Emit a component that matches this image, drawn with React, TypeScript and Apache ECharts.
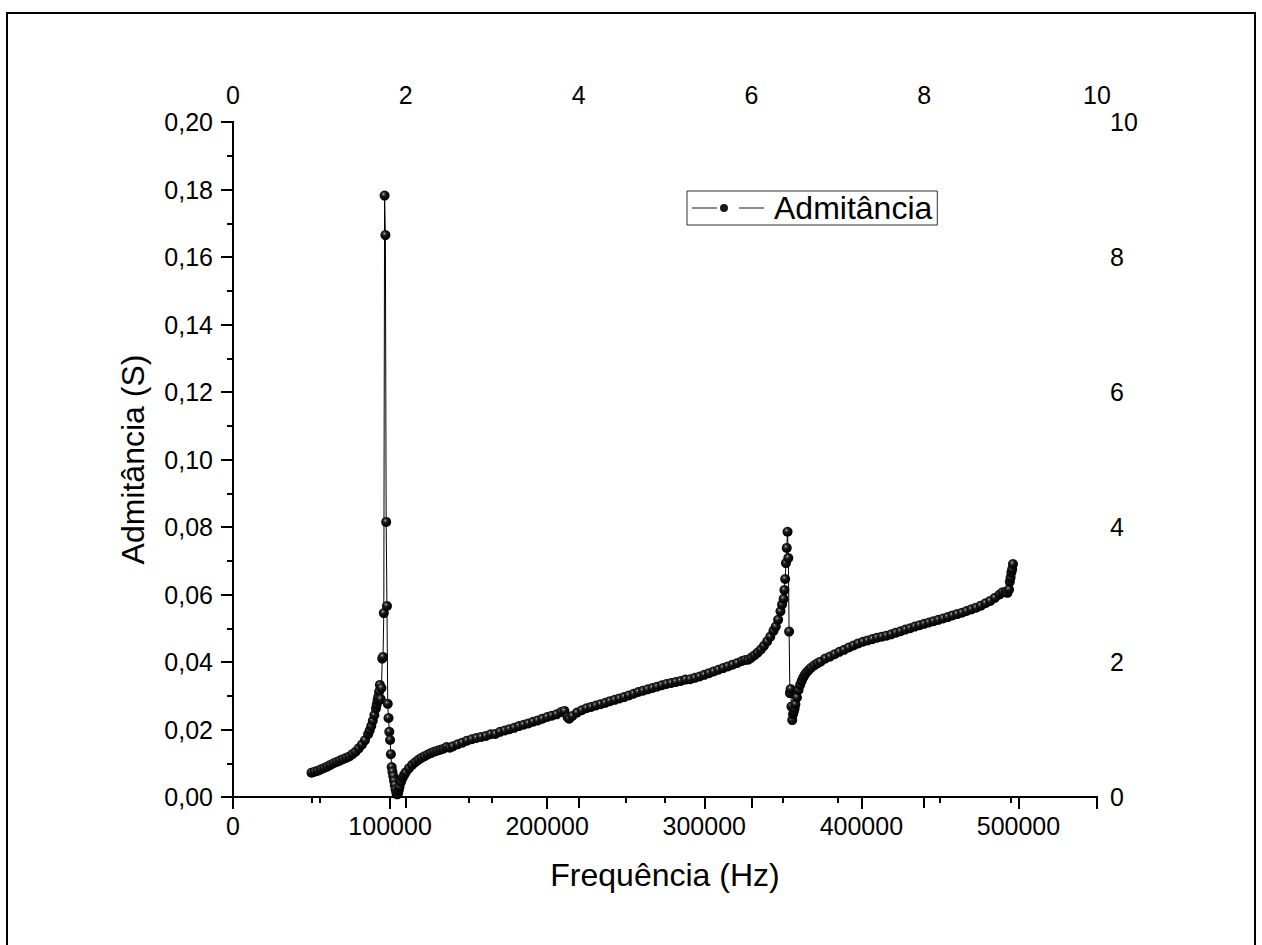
import React, { useEffect, useRef } from "react";
import * as echarts from "echarts";

const lowBand: [number, number][] = [
  [50000, 0.0072], [52000, 0.0075], [54000, 0.0078], [56000, 0.0082], [58000, 0.0086],
  [60000, 0.0090], [62000, 0.0095], [64000, 0.0100], [66000, 0.0104], [68000, 0.0108],
  [70000, 0.0112], [72000, 0.0116], [74000, 0.0120], [76000, 0.0127], [78000, 0.0134],
  [80000, 0.0144], [82000, 0.0155], [84000, 0.0168], [86000, 0.0186], [87000, 0.0197],
  [88000, 0.0210], [89000, 0.0226], [90000, 0.0243], [91000, 0.0262], [91500, 0.0274],
  [92000, 0.0287], [92500, 0.0297], [93000, 0.0312], [93500, 0.0332], [94000, 0.0290],
];

const firstResonance: [number, number][] = [
  [94500, 0.0323], [95000, 0.0410], [95500, 0.0415], [96000, 0.0545], [96500, 0.1782],
  [97000, 0.1665], [97500, 0.0815], [98000, 0.0566], [98500, 0.0276], [99000, 0.0234],
  [99500, 0.0193], [100000, 0.0169], [100500, 0.0127], [101000, 0.0089], [101500, 0.0075],
  [102000, 0.0062], [102500, 0.0048], [103000, 0.0035], [103500, 0.0022], [104000, 0.0012],
  [104500, 0.0008], [105000, 0.0010], [105500, 0.0020], [106000, 0.0030], [107000, 0.0045],
  [108000, 0.0057], [109000, 0.0066], [110000, 0.0073], [112000, 0.0085], [114000, 0.0095],
];

const midBand: [number, number][] = [
  [116000, 0.0103], [118000, 0.0110], [120000, 0.0116], [122000, 0.0121], [124000, 0.0126],
  [126000, 0.0130], [128000, 0.0134], [130000, 0.0137], [132000, 0.0140], [134000, 0.0143],
  [136000, 0.0148], [138000, 0.0146], [140000, 0.0150], [143000, 0.0156], [146000, 0.0161],
  [149000, 0.0167], [152000, 0.0171], [155000, 0.0175], [158000, 0.0178], [161000, 0.0181],
  [164000, 0.0186], [167000, 0.0187], [170000, 0.0193], [173000, 0.0197], [176000, 0.0201],
  [179000, 0.0205], [182000, 0.0210], [185000, 0.0214], [188000, 0.0218], [191000, 0.0223],
  [194000, 0.0227], [197000, 0.0232], [200000, 0.0237], [203000, 0.0241], [206000, 0.0245],
  [209000, 0.0252], [211000, 0.0255], [213000, 0.0236], [214000, 0.0232], [216000, 0.0240],
  [219000, 0.0250], [222000, 0.0257], [225000, 0.0263], [228000, 0.0267], [231000, 0.0271],
  [234000, 0.0275], [237000, 0.0279], [240000, 0.0284], [243000, 0.0288], [246000, 0.0292],
  [249000, 0.0296], [252000, 0.0301], [255000, 0.0306], [258000, 0.0311], [261000, 0.0315],
  [264000, 0.0319], [267000, 0.0323], [270000, 0.0327], [273000, 0.0331], [276000, 0.0335],
  [279000, 0.0338], [282000, 0.0341], [285000, 0.0344], [288000, 0.0348], [291000, 0.0349],
  [294000, 0.0353], [297000, 0.0357], [300000, 0.0362], [303000, 0.0367], [306000, 0.0372],
  [309000, 0.0377], [312000, 0.0382], [315000, 0.0387], [318000, 0.0392], [321000, 0.0397],
  [324000, 0.0403], [326000, 0.0406], [328000, 0.0407], [330000, 0.0413], [332000, 0.0420],
  [334000, 0.0428], [336000, 0.0437], [338000, 0.0448], [340000, 0.0461], [342000, 0.0475],
  [344000, 0.0492],
];

const secondResonance: [number, number][] = [
  [345500, 0.0505], [347000, 0.0525], [348500, 0.0550], [349500, 0.0570], [350500, 0.0587],
  [351000, 0.0613], [351500, 0.0646], [352000, 0.0693], [352500, 0.0738], [353000, 0.0786],
  [353500, 0.0708], [354000, 0.0490], [354500, 0.0308], [355000, 0.0320], [355500, 0.0268],
  [356000, 0.0228], [356500, 0.0245], [357000, 0.0253], [357500, 0.0262], [358000, 0.0275],
  [359000, 0.0295], [360000, 0.0317], [361000, 0.0332], [362000, 0.0344], [363000, 0.0354],
  [364000, 0.0362], [365000, 0.0369], [366500, 0.0376], [368000, 0.0383], [370000, 0.0390],
  [372000, 0.0396], [374000, 0.0401], [377000, 0.0410],
];

const highBand: [number, number][] = [
  [380000, 0.0416], [383000, 0.0423], [386000, 0.0430], [389000, 0.0436], [392000, 0.0443],
  [395000, 0.0449], [398000, 0.0455], [401000, 0.0460], [404000, 0.0464], [407000, 0.0468],
  [410000, 0.0472], [413000, 0.0475], [416000, 0.0478], [419000, 0.0482], [422000, 0.0487],
  [425000, 0.0491], [428000, 0.0496], [431000, 0.0500], [434000, 0.0505], [437000, 0.0509],
  [440000, 0.0513], [443000, 0.0517], [446000, 0.0521], [449000, 0.0525], [452000, 0.0529],
  [455000, 0.0533], [458000, 0.0538], [461000, 0.0542], [464000, 0.0546], [467000, 0.0551],
  [470000, 0.0556], [473000, 0.0561], [476000, 0.0567], [479000, 0.0574], [482000, 0.0581],
  [485000, 0.0590], [488000, 0.0600], [490000, 0.0607], [492000, 0.0608], [493000, 0.0605],
  [494000, 0.0615], [494500, 0.0638], [495000, 0.0650], [495500, 0.0665], [496000, 0.0675],
  [496500, 0.0690],
];

const seriesName = "Admitância";
const xAxisTitle = "Frequência (Hz)";
const yAxisTitle = "Admitância (S)";

const FONT = "'Liberation Sans', Arial, sans-serif";

// legend glyph: line — dot — line, with gaps around the dot
const LEGEND_ICON =
  "path://M0 3.5 H25 V4.5 H0 Z M28 4 A4 4 0 1 0 36 4 A4 4 0 1 0 28 4 Z M47 3.5 H72 V4.5 H47 Z";

export default function App() {
  const ref = useRef<HTMLDivElement>(null);

  useEffect(() => {
    if (!ref.current) return;
    const chart = echarts.init(ref.current, undefined, { renderer: "svg" });
    const data = [...lowBand, ...firstResonance, ...midBand, ...secondResonance, ...highBand];

    const axisLine = { show: true, lineStyle: { color: "#000", width: 2 } };
    const tickStyle = { color: "#000", width: 2 };
    const labelBase = { color: "#000", fontFamily: FONT, fontSize: 25 };

    chart.setOption({
      animation: false,
      backgroundColor: "#fff",
      graphic: [
        {
          type: "rect",
          shape: { x: 7, y: 13, width: 1248, height: 1000 },
          style: { fill: "transparent", stroke: "#000", lineWidth: 2 },
          silent: true,
          z: -1,
        },
      ],
      grid: { left: 233, top: 122, width: 864, height: 675 },
      legend: {
        data: [seriesName],
        left: 687,
        top: 191,
        orient: "vertical",
        icon: LEGEND_ICON,
        itemWidth: 72,
        itemHeight: 8,
        padding: [1, 5, 1, 5],
        borderColor: "#333",
        borderWidth: 1,
        itemStyle: { color: "#1a1a1a" },
        textStyle: { color: "#000", fontFamily: FONT, fontSize: 32, padding: [0, 0, 0, 5] },
      },
      xAxis: [
        {
          type: "value",
          position: "bottom",
          min: 0,
          max: 550000,
          interval: 100000,
          name: xAxisTitle,
          nameLocation: "middle",
          nameGap: 62,
          nameTextStyle: { color: "#000", fontFamily: FONT, fontSize: 32 },
          axisLine,
          axisTick: { show: true, inside: false, length: 12, lineStyle: tickStyle },
          minorTick: { show: true, splitNumber: 2, length: 6, lineStyle: tickStyle },
          axisLabel: {
            ...labelBase,
            margin: 16,
            showMaxLabel: false,
            formatter: (v: number) => String(Math.round(v)),
          },
          splitLine: { show: false },
        },
        {
          type: "value",
          position: "top",
          min: 0,
          max: 10,
          interval: 2,
          axisLine,
          axisTick: { show: true, inside: true, length: 11, lineStyle: tickStyle },
          minorTick: { show: true, splitNumber: 2, length: 6, lineStyle: tickStyle },
          axisLabel: { ...labelBase, margin: 15 },
          splitLine: { show: false },
        },
      ],
      yAxis: [
        {
          type: "value",
          position: "left",
          min: 0,
          max: 0.2,
          interval: 0.02,
          name: yAxisTitle,
          nameLocation: "middle",
          nameGap: 84,
          nameTextStyle: { color: "#000", fontFamily: FONT, fontSize: 32 },
          axisLine,
          axisTick: { show: true, inside: false, length: 12, lineStyle: tickStyle },
          minorTick: { show: true, splitNumber: 2, length: 6, lineStyle: tickStyle },
          axisLabel: {
            ...labelBase,
            margin: 20,
            formatter: (v: number) => v.toFixed(2).replace(".", ","),
          },
          splitLine: { show: false },
        },
        {
          type: "value",
          position: "right",
          min: 0,
          max: 10,
          interval: 2,
          axisLine,
          axisTick: { show: true, inside: true, length: 11, lineStyle: tickStyle },
          minorTick: { show: true, splitNumber: 2, length: 6, lineStyle: tickStyle },
          axisLabel: { ...labelBase, margin: 13 },
          splitLine: { show: false },
        },
      ],
      series: [
        {
          name: seriesName,
          type: "line",
          xAxisIndex: 0,
          yAxisIndex: 0,
          data,
          symbol: "circle",
          symbolSize: 10,
          showSymbol: true,
          silent: true,
          lineStyle: { color: "#000", width: 1 },
          itemStyle: {
            color: {
              type: "radial",
              x: 0.4,
              y: 0.35,
              r: 0.6,
              colorStops: [
                { offset: 0, color: "#d8d8d8" },
                { offset: 0.15, color: "#555555" },
                { offset: 0.45, color: "#141414" },
                { offset: 1, color: "#000000" },
              ],
            },
            borderWidth: 0,
          },
          emphasis: { disabled: true },
        },
      ],
    });

    return () => chart.dispose();
  }, []);

  return (
    <div
      ref={ref}
      style={{ position: "fixed", left: 0, top: 0, width: 1262, height: 945, background: "#fff" }}
    />
  );
}
